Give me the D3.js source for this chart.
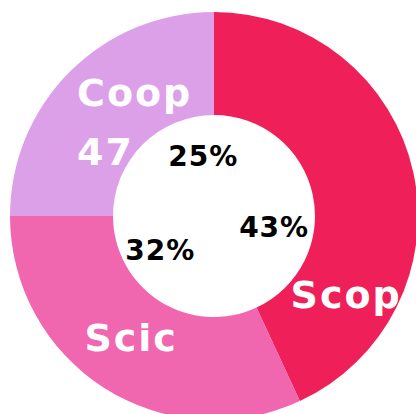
<!DOCTYPE html>
<html>
<head>
<meta charset="utf-8">
<script src="https://cdn.jsdelivr.net/npm/d3@7.9.0/dist/d3.min.js"></script>
<style>
  html, body { margin: 0; padding: 0; background: #fff; }
  svg { display: block; }
  text { font-family: "DejaVu Sans", sans-serif; font-weight: bold; }
</style>
</head>
<body>
<div id="chart"></div>
<script>
// données
const categories = ['Scop', 'Scic', 'Coop'];
const values = [81, 60, 47];
const colors = ['#EE1F59', '#F066AF', '#DCA0E8'];

const width = 416;
const height = 414;
const cx = 214, cy = 216;
const outerR = 204, innerR = 101;

// position des étiquettes (angle en degrés, rayon)
const nameLabelPos = {
  Scop: { angle: 121, r: 153 },
  Scic: { angle: 214.5, r: 148 },
  Coop: { angle: 319, r: 125 }
};
const pctLabelPos = {
  Scop: { angle: 99.5, r: 61 },
  Scic: { angle: 238.6, r: 63 },
  Coop: { angle: 350, r: 62 }
};

const data = categories.map((c, i) => ({ name: c, value: values[i], color: colors[i] }));
const total = d3.sum(values);

const svg = d3.select('#chart')
  .append('svg')
  .attr('width', width)
  .attr('height', height);

const g = svg.append('g').attr('transform', `translate(${cx},${cy})`);

const pie = d3.pie().value(d => d.value).sort(null);
const arc = d3.arc().innerRadius(innerR).outerRadius(outerR);

const arcs = pie(data);

g.selectAll('path')
  .data(arcs)
  .join('path')
  .attr('d', arc)
  .attr('fill', d => d.data.color);

const rad = a => a * Math.PI / 180;

// noms (blanc)
arcs.forEach(d => {
  const p = nameLabelPos[d.data.name];
  const [x, y] = d3.pointRadial(rad(p.angle), p.r);
  if (d.data.name === 'Coop') {
    const t = g.append('text')
      .attr('fill', '#fff')
      .attr('font-size', 38)
      .attr('letter-spacing', 2)
      .attr('text-anchor', 'start');
    t.append('tspan').attr('x', x - 55).attr('y', y - 16).text(d.data.name);
    t.append('tspan').attr('x', x - 55).attr('y', y + 43).text(d.data.value);
  } else {
    g.append('text')
      .attr('fill', '#fff')
      .attr('font-size', 38)
      .attr('letter-spacing', 2)
      .attr('text-anchor', 'middle')
      .attr('x', x + 1)
      .attr('y', y + 13)
      .text(d.data.name);
  }
});

// pourcentages (noir)
arcs.forEach(d => {
  const p = pctLabelPos[d.data.name];
  const [x, y] = d3.pointRadial(rad(p.angle), p.r);
  g.append('text')
    .attr('fill', '#000')
    .attr('font-size', 28)
    .attr('letter-spacing', 1)
    .attr('text-anchor', 'middle')
    .attr('x', x)
    .attr('y', y + 11)
    .text(Math.round(d.data.value / total * 100) + '%');
});
</script>
</body>
</html>
